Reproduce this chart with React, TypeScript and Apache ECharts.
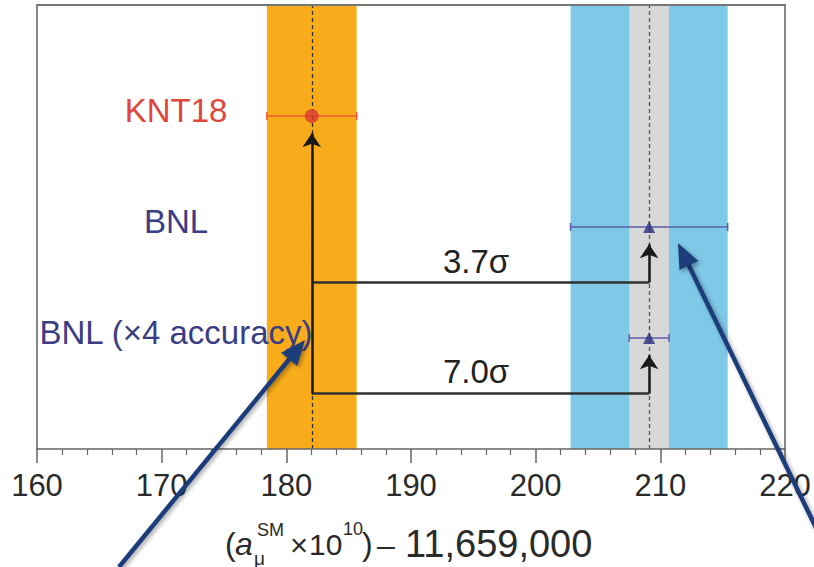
import React, { useEffect, useRef } from 'react';
import * as echarts from 'echarts';

// ---- data ----
const xMin = 160;
const xMax = 220;
const xInterval = 10;
const measurementNames = ['KNT18', 'BNL', 'BNL (×4 accuracy)'];
const measurementRows = [3, 2, 1];
const measurementValues = [182.04, 209.1, 209.1];
const measurementErrors = [3.6, 6.3, 1.6];
const measurementSymbols = ['circle', 'triangle', 'triangle'];
const measurementColors = ['#D93A2E', '#2C2E7E', '#2C2E7E'];
const errorBarColors = ['#EE5A30', '#5A5EA8', '#5A5EA8'];
const labelColors = ['#E0463C', '#3A3D84', '#3A3D84'];
const bandColors = ['#F9AC1B', '#7EC8E8', '#D8D8D8'];
const sigmaLabels = ['3.7σ', '7.0σ'];
const sigmaRows = [1.5, 0.5];
const sigmaTargetRows = [2, 1];

const FONT = '"Liberation Sans", Arial, Helvetica, sans-serif';

function navyArrow(tail: [number, number], tip: [number, number]) {
  const dx = tip[0] - tail[0];
  const dy = tip[1] - tail[1];
  const len = Math.sqrt(dx * dx + dy * dy);
  const ux = dx / len;
  const uy = dy / len;
  const headLen = 25;
  const headHalf = 10.5;
  const bx = tip[0] - ux * headLen;
  const by = tip[1] - uy * headLen;
  const px = -uy;
  const py = ux;
  const color = '#1F3D7A';
  const shadow = { shadowBlur: 4, shadowColor: 'rgba(0,0,0,0.35)', shadowOffsetX: 2, shadowOffsetY: 2 };
  return [
    {
      type: 'line',
      z: 100,
      shape: { x1: tail[0], y1: tail[1], x2: bx + ux * 2, y2: by + uy * 2 },
      style: { stroke: color, lineWidth: 4.5, ...shadow },
    },
    {
      type: 'polygon',
      z: 100,
      shape: {
        points: [
          [tip[0], tip[1]],
          [bx + px * headHalf, by + py * headHalf],
          [bx - px * headHalf, by - py * headHalf],
        ],
      },
      style: { fill: color, ...shadow },
    },
  ];
}

export default function App() {
  const ref = useRef<HTMLDivElement>(null);
  useEffect(() => {
    if (!ref.current) return;
    const chart = echarts.init(ref.current, undefined, { renderer: 'svg' });

    const arrowGap = 0.155;
    const kIdx = 0;
    const kx = measurementValues[kIdx];

    const plainSegments: any[] = [];
    const arrowSegments: any[] = [];
    arrowSegments.push({ coords: [[kx, Math.min(...sigmaRows)], [kx, measurementRows[kIdx] - arrowGap]] });
    sigmaRows.forEach((r, i) => {
      const targetIdx = measurementRows.indexOf(sigmaTargetRows[i]);
      const tx = measurementValues[targetIdx];
      plainSegments.push({ coords: [[kx, r], [tx, r]] });
      arrowSegments.push({ coords: [[tx, r], [tx, sigmaTargetRows[i] - arrowGap]] });
    });

    const bandData = measurementValues.map((v, i) => [
      { xAxis: v - measurementErrors[i], itemStyle: { color: bandColors[i], opacity: 1 } },
      { xAxis: v + measurementErrors[i] },
    ]);

    const errorSeries = measurementValues.map((v, i) => ({
      type: 'line',
      z: 4,
      data: [
        [v - measurementErrors[i], measurementRows[i]],
        [v + measurementErrors[i], measurementRows[i]],
      ],
      symbol: 'rect',
      symbolSize: [1.5, 8],
      showSymbol: true,
      itemStyle: { color: errorBarColors[i] },
      lineStyle: { color: errorBarColors[i], width: 1.5 },
      silent: true,
    }));

    const graphic: any[] = [];
    const labelY = [110, 221.5, 332];
    measurementNames.forEach((n, i) => {
      graphic.push({
        type: 'text',
        x: 176,
        y: labelY[i],
        z: 50,
        style: { text: n, font: `33px ${FONT}`, fill: labelColors[i], align: 'center', verticalAlign: 'middle' },
      });
    });
    const sigmaY = [261, 371];
    sigmaLabels.forEach((s, i) => {
      graphic.push({
        type: 'text',
        x: 476,
        y: sigmaY[i],
        z: 50,
        style: { text: s, font: `33px ${FONT}`, fill: '#222', align: 'center', verticalAlign: 'middle' },
      });
    });
    const titleColor = '#2a2a2a';
    const pieces = [
      { t: '(', x: 225, y: 544, s: 32, it: false },
      { t: 'a', x: 235, y: 544, s: 32, it: true },
      { t: 'μ', x: 254, y: 558, s: 19, it: false },
      { t: 'SM', x: 257, y: 530, s: 18, it: false },
      { t: '×', x: 290, y: 545, s: 31, it: false },
      { t: '10', x: 309, y: 544, s: 30, it: false },
      { t: '10', x: 343, y: 529, s: 18, it: false },
      { t: ')', x: 362, y: 544, s: 32, it: false },
      { t: '–', x: 377, y: 545, s: 32, it: false },
      { t: '11,659,000', x: 405, y: 544, s: 38, it: false },
    ];
    pieces.forEach((p) => {
      graphic.push({
        type: 'text',
        x: p.x,
        y: p.y,
        z: 50,
        style: {
          text: p.t,
          font: `${p.it ? 'italic ' : ''}${p.s}px ${FONT}`,
          fill: titleColor,
          align: 'left',
          verticalAlign: 'middle',
        },
      });
    });
    graphic.push(...navyArrow([119, 567], [305, 340]));
    graphic.push(...navyArrow([835, 567], [678, 243]));

    const option: any = {
      animation: false,
      backgroundColor: '#ffffff',
      grid: { left: 37, right: 29, top: 5, bottom: 118, show: false },
      xAxis: [
        {
          type: 'value',
          min: xMin,
          max: xMax,
          interval: xInterval,
          z: 20,
          axisLine: { show: true, lineStyle: { color: '#666', width: 1.5 } },
          axisTick: { show: true, length: 14, lineStyle: { color: '#666', width: 1.5 } },
          minorTick: { show: true, splitNumber: 5, length: 6, lineStyle: { color: '#666', width: 1.2 } },
          splitLine: { show: false },
          axisLabel: { fontSize: 31, fontFamily: FONT, color: '#2a2a2a', margin: 21 },
        },
        {
          type: 'value',
          position: 'top',
          min: xMin,
          max: xMax,
          z: 20,
          axisLine: { show: true, onZero: false, lineStyle: { color: '#777', width: 2 } },
          axisTick: { show: false },
          axisLabel: { show: false },
          splitLine: { show: false },
        },
      ],
      yAxis: [
        {
          type: 'value',
          min: 0,
          max: 4,
          z: 20,
          axisLine: { show: true, onZero: false, lineStyle: { color: '#888', width: 2 } },
          axisTick: { show: false },
          axisLabel: { show: false },
          splitLine: { show: false },
        },
        {
          type: 'value',
          position: 'right',
          min: 0,
          max: 4,
          z: 20,
          axisLine: { show: true, onZero: false, lineStyle: { color: '#888', width: 2 } },
          axisTick: { show: false },
          axisLabel: { show: false },
          splitLine: { show: false },
        },
      ],
      series: [
        {
          type: 'line',
          name: 'bands',
          data: [],
          z: 1,
          silent: true,
          markArea: { silent: true, data: bandData },
          markLine: {
            silent: true,
            symbol: ['none', 'none'],
            label: { show: false },
            data: [
              { xAxis: measurementValues[0], lineStyle: { color: '#333', type: [4, 3], width: 1.3 } },
              { xAxis: measurementValues[1], lineStyle: { color: '#555', type: [4, 3], width: 1.3 } },
            ],
          },
        },
        ...errorSeries,
        {
          type: 'lines',
          coordinateSystem: 'cartesian2d',
          z: 6,
          silent: true,
          symbol: ['none', 'none'],
          lineStyle: { color: '#303030', width: 2.5, opacity: 1 },
          data: plainSegments,
        },
        {
          type: 'lines',
          coordinateSystem: 'cartesian2d',
          z: 6,
          silent: true,
          symbol: ['none', 'arrow'],
          symbolSize: 14,
          lineStyle: { color: '#1a1a1a', width: 2.5, opacity: 1 },
          data: arrowSegments,
        },
        {
          type: 'scatter',
          z: 8,
          silent: true,
          data: measurementValues.map((v, i) => ({
            value: [v, measurementRows[i]],
            symbol: measurementSymbols[i],
            symbolSize: i === 0 ? 14 : 12,
            itemStyle: { color: measurementColors[i] },
          })),
        },
      ],
      graphic,
    };
    chart.setOption(option);
    return () => chart.dispose();
  }, []);
  return <div ref={ref} style={{ position: 'fixed', left: 0, top: 0, width: 814, height: 567 }} />;
}
